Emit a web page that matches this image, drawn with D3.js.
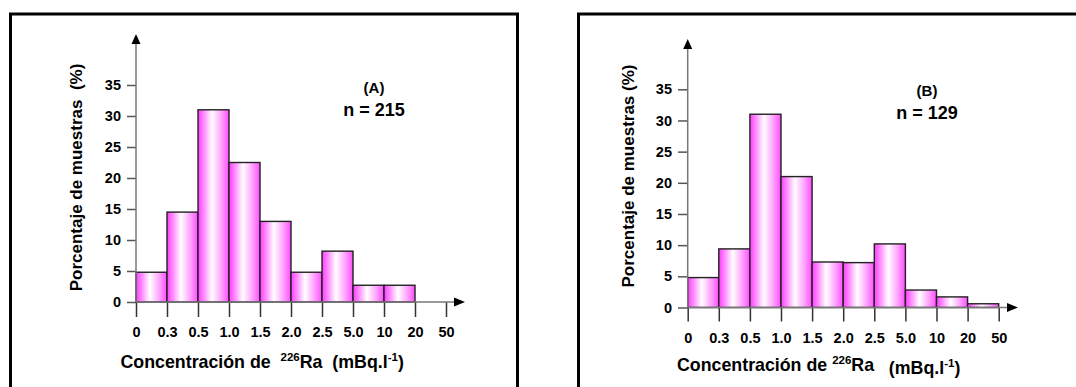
<!DOCTYPE html>
<html><head><meta charset="utf-8">
<script src="https://cdn.jsdelivr.net/npm/d3@7"></script>
<style>
body{margin:0;background:#fff;}
svg{display:block;font-family:"Liberation Sans",Arial,sans-serif;font-weight:bold;}
</style></head>
<body>
<svg id="chart" width="1076" height="387"></svg>
<script>
// ---- data ----
const binEdges = ["0","0.3","0.5","1.0","1.5","2.0","2.5","5.0","10","20","50"];
const valuesA = [4.8, 14.5, 31, 22.5, 13, 4.8, 8.2, 2.7, 2.7, 0];
const valuesB = [4.8, 9.4, 31, 21, 7.3, 7.2, 10.2, 2.8, 1.7, 0.6];
const yTicks = [0, 5, 10, 15, 20, 25, 30, 35];
const labelA = "(A)", nA = "n = 215";
const labelB = "(B)", nB = "n = 129";

const svg = d3.select("#chart");
const defs = svg.append("defs");
const grad = defs.append("linearGradient").attr("id","pinkgrad").attr("x1","0").attr("x2","1").attr("y1","0").attr("y2","0");
grad.append("stop").attr("offset","0%").attr("stop-color","#ff3cff");
grad.append("stop").attr("offset","22%").attr("stop-color","#ff98ff");
grad.append("stop").attr("offset","45%").attr("stop-color","#ffffff");
grad.append("stop").attr("offset","75%").attr("stop-color","#ffa4ff");
grad.append("stop").attr("offset","100%").attr("stop-color","#ff4cff");

function panel(cfg){
  const g = svg.append("g");
  // frame
  g.append("path").attr("d", cfg.frame).attr("fill","none").attr("stroke","#000").attr("stroke-width",3);

  const x = d3.scalePoint().domain(binEdges).range([cfg.x0, cfg.x1]);
  const y = d3.scaleLinear().domain([0,35]).range([cfg.y0, cfg.y35]);

  // bars
  const bars = cfg.values.map((v,i)=>({v, a:binEdges[i], b:binEdges[i+1]})).filter(d=>d.v>0);
  g.selectAll("rect.bar").data(bars).enter().append("rect")
    .attr("x", d=>x(d.a)).attr("width", d=>x(d.b)-x(d.a))
    .attr("y", d=>y(d.v)).attr("height", d=>y(0)-y(d.v))
    .attr("fill","url(#pinkgrad)").attr("stroke","#222").attr("stroke-width",1.4);

  // y axis
  const ya = g.append("g").attr("transform",`translate(${cfg.x0},0)`)
    .call(d3.axisLeft(y).tickValues(yTicks).tickSize(cfg.yTick).tickPadding(6));
  ya.select(".domain").remove();
  ya.selectAll("line").attr("stroke","#555").attr("stroke-width",1.5);
  ya.selectAll("text").attr("font-size",14.5).attr("fill","#000").attr("font-family","Liberation Sans, Arial, sans-serif").attr("font-weight","bold");

  // x axis
  const xa = g.append("g").attr("transform",`translate(0,${cfg.y0})`)
    .call(d3.axisBottom(x).tickSize(cfg.xTick).tickPadding(cfg.xPad));
  xa.select(".domain").remove();
  xa.selectAll("line").attr("stroke","#333").attr("stroke-width",1.5);
  xa.selectAll("text").attr("font-size",14.5).attr("fill","#000").attr("font-family","Liberation Sans, Arial, sans-serif").attr("font-weight","bold");

  // axis lines with arrows
  g.append("line").attr("x1",cfg.x0).attr("x2",cfg.x0).attr("y1",y(0)).attr("y2",cfg.yArrow+8)
    .attr("stroke","#777").attr("stroke-width",1.5);
  g.append("path").attr("d",`M${cfg.x0},${cfg.yArrow} L${cfg.x0-4.5},${cfg.yArrow+10} L${cfg.x0+4.5},${cfg.yArrow+10} Z`).attr("fill","#000");
  g.append("line").attr("x1",cfg.x0).attr("x2",cfg.xArrow-8).attr("y1",y(0)).attr("y2",y(0))
    .attr("stroke","#777").attr("stroke-width",1.5);
  g.append("path").attr("d",`M${cfg.xArrow},${y(0)} L${cfg.xArrow-11},${y(0)-4.5} L${cfg.xArrow-11},${y(0)+4.5} Z`).attr("fill","#000");

  // y label
  g.append("text").attr("transform",`translate(${cfg.ylx},${cfg.yly}) rotate(-90)`)
    .attr("text-anchor","middle").attr("dominant-baseline","central")
    .attr("font-size",17).style("white-space","pre").text(cfg.ylab);

  // x label
  const t = g.append("text").attr("x",cfg.xlx).attr("y",cfg.xly).attr("font-size",17.8).style("white-space","pre");
  t.append("tspan").text(cfg.xlabPre);
  t.append("tspan").attr("font-size",11.5).attr("dy",-7).text("226");
  t.append("tspan").attr("dy",7).text("Ra");
  t.append("tspan").attr("dy",cfg.unitDy).text(cfg.xlabGap + "(mBq.l");
  t.append("tspan").attr("font-size",11.5).attr("dy",-7).text("-1");
  t.append("tspan").attr("dy",7).text(")");

  // annotations
  g.append("text").attr("x",cfg.ax).attr("y",cfg.ay).attr("text-anchor","middle").attr("dominant-baseline","central")
    .attr("font-size",15).text(cfg.lab);
  g.append("text").attr("x",cfg.ax).attr("y",cfg.ny).attr("text-anchor","middle").attr("dominant-baseline","central")
    .attr("font-size",18).text(cfg.n);
}

panel({
  frame:"M10.5,400 L10.5,14 L517.5,14 L517.5,400",
  values:valuesA, x0:136, x1:446, y0:302, y35:85,
  yTick:9, xTick:15, xPad:10, yArrow:34, xArrow:465,
  ylx:76.5, yly:177.5, ylab:"Porcentaje de muestras  (%)",
  xlx:120.5, xly:368, xlabPre:"Concentración de  ", xlabGap:"  ", unitDy:0,
  ax:374, ay:87, ny:110, lab:labelA, n:nA
});
panel({
  frame:"M578.5,400 L578.5,14 L1090,14",
  values:valuesB, x0:687.7, x1:998.7, y0:307.5, y35:89.3,
  yTick:9.7, xTick:14, xPad:11, yArrow:39, xArrow:1018,
  ylx:628, yly:176, ylab:"Porcentaje de muestras (%)",
  xlx:677, xly:371, xlabPre:"Concentración de ", xlabGap:"   ", unitDy:3,
  ax:927, ay:90, ny:113.3, lab:labelB, n:nB
});
</script>
</body></html>
